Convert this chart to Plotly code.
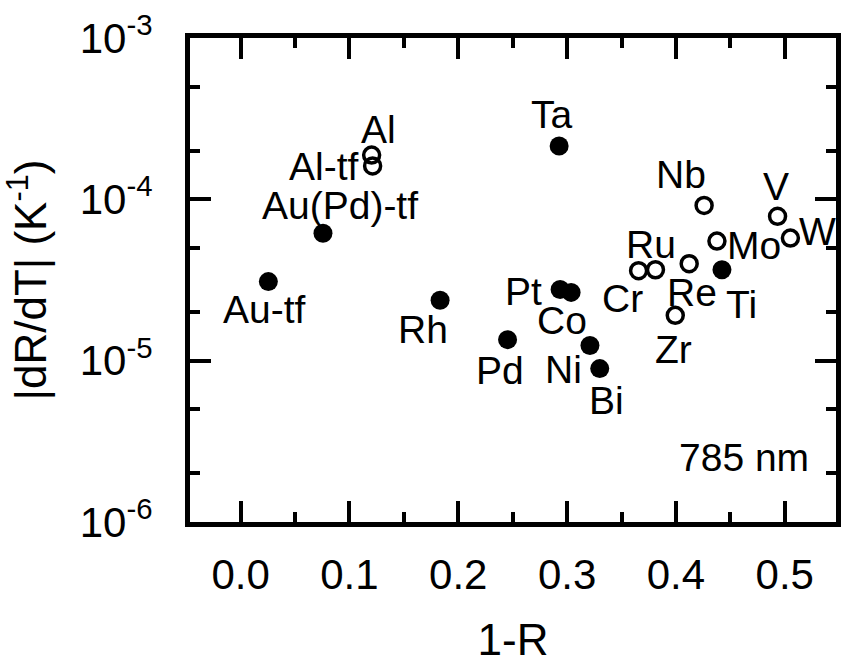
import numpy as np
import plotly.graph_objects as go

# ---------------- data ----------------
filled_names = ["Au-tf", "Au(Pd)-tf", "Rh", "Pd", "Ta", "Pt", "Co", "Ni", "Bi", "Ti"]
filled_x = [0.0255, 0.0757, 0.1833, 0.2453, 0.2927, 0.2936, 0.3037, 0.321, 0.330, 0.4423]
filled_y = [3.09e-5, 6.17e-5, 2.37e-5, 1.35e-5, 2.14e-4, 2.76e-5, 2.65e-5, 1.24e-5, 8.93e-6, 3.66e-5]

open_names = ["Al", "Al-tf", "Cr", "Ru", "Zr", "Re", "Nb", "Mo", "V", "W"]
open_x = [0.1204, 0.1213, 0.3657, 0.3812, 0.3994, 0.4122, 0.4259, 0.4377, 0.4934, 0.5052]
open_y = [1.88e-4, 1.61e-4, 3.61e-5, 3.66e-5, 1.91e-5, 3.99e-5, 9.16e-5, 5.51e-5, 7.85e-5, 5.75e-5]

x_tickvals = [0.0, 0.1, 0.2, 0.3, 0.4, 0.5]
x_ticktext = ["0.0", "0.1", "0.2", "0.3", "0.4", "0.5"]
x_minor = [0.05, 0.15, 0.25, 0.35, 0.45]
y_tickvals = [1e-6, 1e-5, 1e-4, 1e-3]
y_ticktext = ["10<sup>-6</sup>", "10<sup>-5</sup>", "10<sup>-4</sup>", "10<sup>-3</sup>"]
y_minor = [2e-6, 5e-6, 2e-5, 5e-5, 2e-4, 5e-4]

# label pixel offsets (dx right, dy down) relative to the marker
label_offsets = {
    "Al": (7, -26), "Al-tf": (-49, 1), "Au(Pd)-tf": (17, -28), "Au-tf": (-4, 28),
    "Rh": (-17, 29), "Ta": (-7, -32), "Nb": (-23, -31), "V": (-2, -30),
    "W": (27, -7), "Mo": (37, 4), "Ru": (-4, -25), "Cr": (-16, 28),
    "Re": (3, 29), "Ti": (20, 35), "Zr": (-2, 34), "Pt": (-37, 2),
    "Co": (-9, 28), "Pd": (-8, 31), "Ni": (-26, 24), "Bi": (7, 32),
}

FONT = "Liberation Sans, Arial, sans-serif"

fig = go.Figure()
fig.add_trace(go.Scatter(
    x=filled_x, y=filled_y, mode="markers", name="filled",
    marker=dict(symbol="circle", size=19, color="black", line=dict(width=0)),
    showlegend=False, hoverinfo="skip"))
fig.add_trace(go.Scatter(
    x=open_x, y=open_y, mode="markers", name="open",
    marker=dict(symbol="circle-open", size=16, color="black", line=dict(width=3.5, color="black")),
    showlegend=False, hoverinfo="skip"))

annotations = []
for names, xs, ys in [(filled_names, filled_x, filled_y), (open_names, open_x, open_y)]:
    for n, xv, yv in zip(names, xs, ys):
        dx, dy = label_offsets[n]
        annotations.append(dict(
            x=xv, y=np.log10(yv), xref="x", yref="y", text=n, showarrow=False,
            xshift=dx, yshift=-dy, font=dict(family=FONT, size=39, color="black"),
            xanchor="center", yanchor="middle"))

annotations.append(dict(
    x=0.857, y=0.133, xref="paper", yref="paper", text="785 nm", showarrow=False,
    font=dict(family=FONT, size=39, color="black"), xanchor="center", yanchor="middle"))

axis_common = dict(
    showline=True, linecolor="black", linewidth=5, mirror="ticks",
    ticks="inside", ticklen=21, tickwidth=4, tickcolor="black",
    showgrid=False, zeroline=False,
    tickfont=dict(family=FONT, size=42, color="black"),
)

fig.update_layout(
    width=846, height=664,
    margin=dict(l=190, r=5, t=38, b=137),
    plot_bgcolor="white", paper_bgcolor="white",
    annotations=annotations,
    xaxis=dict(
        range=[-0.0465, 0.5471], tickmode="array", tickvals=x_tickvals, ticktext=x_ticktext,
        minor=dict(tickmode="array", tickvals=x_minor, ticks="inside", ticklen=10,
                   tickwidth=4, tickcolor="black", showgrid=False),
        title=dict(text="1-R", font=dict(family=FONT, size=44, color="black"), standoff=30),
        ticklabelstandoff=12,
        **axis_common),
    yaxis=dict(
        type="log", range=[-6, -3], tickmode="array", tickvals=y_tickvals, ticktext=y_ticktext,
        minor=dict(tickmode="array", tickvals=y_minor, ticks="inside", ticklen=10,
                   tickwidth=4, tickcolor="black", showgrid=False),
        title=dict(text="|dR/dT| (K<sup>-1</sup>)", font=dict(family=FONT, size=44, color="black"),
                   standoff=26),
        ticklabelstandoff=24,
        **axis_common),
)

fig.write_html("out.html")
